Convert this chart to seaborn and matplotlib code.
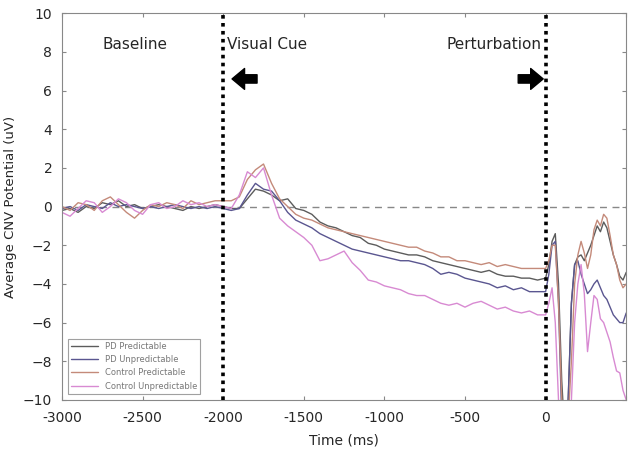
import numpy as np
import pandas as pd
import matplotlib.pyplot as plt
import seaborn as sns

# time axis (ms): 50 ms steps before the perturbation, 20 ms after
time_pre = np.arange(-3000, 0, 50)
time_post = np.arange(0, 501, 20)

# values (uV)
pd_pred_pre = [-0.2, -0.1, -0.3, 0.0, -0.1, 0.2, 0.1, 0.3, 0.0, 0.1,
               -0.1, 0.0, 0.1, 0.0, -0.1, -0.2, 0.0, -0.1, 0.0, 0.1,
               0.0, -0.1, -0.1, 0.4, 0.9, 0.8, 0.6, 0.3, 0.4, -0.1,
               -0.2, -0.4, -0.8, -1.0, -1.1, -1.3, -1.5, -1.6, -1.9, -2.0,
               -2.2, -2.3, -2.4, -2.5, -2.5, -2.6, -2.8, -2.9, -3.0, -3.1,
               -3.2, -3.3, -3.4, -3.3, -3.5, -3.6, -3.6, -3.7, -3.7, -3.8]
pd_pred_post = [-3.7, -3.0, -1.8, -1.4, -4.0, -9.0, -12.0, -10.0, -5.0, -3.0,
                -2.6, -2.5, -2.8, -2.4, -2.0, -1.5, -1.0, -1.3, -0.8, -1.1,
                -1.8, -2.5, -3.0, -3.6, -3.8, -3.4]

pd_unpred_pre = [-0.1, 0.0, -0.2, 0.1, 0.0, -0.1, 0.2, 0.0, 0.1, 0.0,
                 -0.1, 0.0, -0.1, 0.0, 0.1, 0.0, -0.1, 0.0, -0.1, 0.0,
                 -0.1, -0.2, -0.1, 0.6, 1.2, 0.9, 0.8, 0.3, -0.3, -0.7,
                 -0.9, -1.1, -1.4, -1.6, -1.8, -2.0, -2.2, -2.3, -2.4, -2.5,
                 -2.6, -2.7, -2.8, -2.8, -2.9, -3.0, -3.2, -3.5, -3.4, -3.5,
                 -3.7, -3.8, -3.9, -4.0, -4.2, -4.1, -4.3, -4.2, -4.4, -4.4]
pd_unpred_post = [-4.4, -3.5, -2.0, -1.8, -5.0, -11.0, -12.0, -10.0, -5.0, -3.0,
                  -2.8, -3.5, -4.0, -4.5, -4.3, -4.0, -3.8, -4.2, -4.6, -4.8,
                  -5.2, -5.6, -5.8, -6.0, -6.0, -5.5]

ctrl_pred_pre = [0.0, -0.2, 0.2, 0.1, -0.2, 0.3, 0.5, 0.1, -0.3, -0.6,
                 -0.2, 0.1, 0.0, 0.2, 0.1, -0.1, 0.3, 0.1, 0.2, 0.3,
                 0.3, 0.3, 0.5, 1.4, 1.9, 2.2, 1.2, 0.4, 0.0, -0.4,
                 -0.6, -0.7, -0.9, -1.1, -1.2, -1.3, -1.4, -1.5, -1.6, -1.7,
                 -1.8, -1.9, -2.0, -2.1, -2.1, -2.3, -2.4, -2.6, -2.6, -2.8,
                 -2.8, -2.9, -3.0, -2.9, -3.1, -3.0, -3.1, -3.2, -3.2, -3.2]
ctrl_pred_post = [-3.2, -2.8, -2.0, -2.0, -5.0, -10.0, -12.0, -11.0, -8.0, -4.0,
                  -2.5, -1.8, -2.4, -3.2, -2.5, -1.2, -0.7, -1.0, -0.4, -0.6,
                  -1.5, -2.5, -3.0, -3.8, -4.2, -4.0]

ctrl_unpred_pre = [-0.3, -0.5, -0.1, 0.3, 0.2, -0.3, 0.0, 0.4, 0.2, -0.2,
                   -0.4, 0.1, 0.2, -0.1, 0.0, 0.3, 0.1, 0.2, 0.0, 0.1,
                   0.0, -0.1, 0.6, 1.8, 1.5, 2.0, 0.6, -0.6, -1.0, -1.3,
                   -1.6, -2.0, -2.8, -2.7, -2.5, -2.3, -2.9, -3.3, -3.8, -3.9,
                   -4.1, -4.2, -4.3, -4.5, -4.6, -4.6, -4.8, -5.0, -5.1, -5.0,
                   -5.2, -5.0, -4.9, -5.1, -5.3, -5.2, -5.4, -5.5, -5.4, -5.6]
ctrl_unpred_post = [-5.6, -5.0, -4.2, -6.0, -10.0, -12.0, -12.0, -12.0, -10.0, -6.0,
                    -4.0, -3.0, -4.5, -7.5, -6.0, -4.6, -4.8, -5.8, -6.0, -6.5,
                    -7.0, -7.8, -8.5, -8.6, -9.5, -10.0]

labels = ['PD Predictable', 'PD Unpredictable', 'Control Predictable', 'Control Unpredictable']
colors = ['#5c5c5c', '#5a5690', '#c48a7a', '#d88ad2']

time = np.concatenate([time_pre, time_post])
series = [pd_pred_pre + pd_pred_post, pd_unpred_pre + pd_unpred_post,
          ctrl_pred_pre + ctrl_pred_post, ctrl_unpred_pre + ctrl_unpred_post]
df = pd.concat([pd.DataFrame({'time': time, 'value': v, 'group': lab})
                for lab, v in zip(labels, series)], ignore_index=True)

sns.set_style('ticks')
plt.rcParams['xtick.direction'] = 'in'
plt.rcParams['ytick.direction'] = 'in'

fig = plt.figure(figsize=(6.39, 4.54), dpi=100)
ax = fig.add_axes([0.097, 0.119, 0.883, 0.852])

sns.lineplot(data=df, x='time', y='value', hue='group', hue_order=labels,
             palette=colors, linewidth=1.0, ax=ax, legend=False)

ax.axhline(0, color='#888888', linestyle=(0, (5, 4)), linewidth=1.0, zorder=0)
for xv in [-2000, 0]:
    ax.axvline(xv, color='black', linestyle=(0, (1, 1.2)), linewidth=2.6, zorder=5)

ax.set_xlim(-3000, 500)
ax.set_ylim(-10, 10)
ax.set_xticks([-3000, -2500, -2000, -1500, -1000, -500, 0, 500])
ax.set_xticklabels(['-3000', '-2500', '-2000', '-1500', '-1000', '-500', '0', ''])
ax.set_yticks(range(-10, 11, 2))
ax.tick_params(top=True, right=True, length=3, labelsize=10, color='#888888')
ax.tick_params(axis='x', pad=8)
ax.tick_params(axis='y', pad=7)
for s in ax.spines.values():
    s.set_color('#888888')
    s.set_linewidth(0.8)

ax.set_xlabel('Time (ms)', fontsize=10, labelpad=6)
ax.set_ylabel('Average CNV Potential (uV)', fontsize=9.5, labelpad=4)

ax.text(-2550, 8.4, 'Baseline', ha='center', va='center', fontsize=11)
ax.text(-1730, 8.4, 'Visual Cue', ha='center', va='center', fontsize=11)
ax.text(-25, 8.4, 'Perturbation', ha='right', va='center', fontsize=11)

arrow = dict(arrowstyle='simple,head_width=1.5,head_length=0.9,tail_width=0.6',
             color='black', shrinkA=0, shrinkB=0)
ax.annotate('', xy=(-1945, 6.6), xytext=(-1790, 6.6), arrowprops=arrow)
ax.annotate('', xy=(-15, 6.6), xytext=(-170, 6.6), arrowprops=arrow)

handles = [plt.Line2D([], [], color=c, linewidth=1.0) for c in colors]
leg = ax.legend(handles, labels, loc='lower left', fontsize=6, frameon=True,
                fancybox=False, borderpad=0.4, handlelength=3.2, labelspacing=0.5,
                bbox_to_anchor=(0.003, 0.005))
leg.get_frame().set_edgecolor('#888888')
leg.get_frame().set_linewidth(0.8)
for t in leg.get_texts():
    t.set_color('#777777')

fig.savefig('out.png', dpi=100)
